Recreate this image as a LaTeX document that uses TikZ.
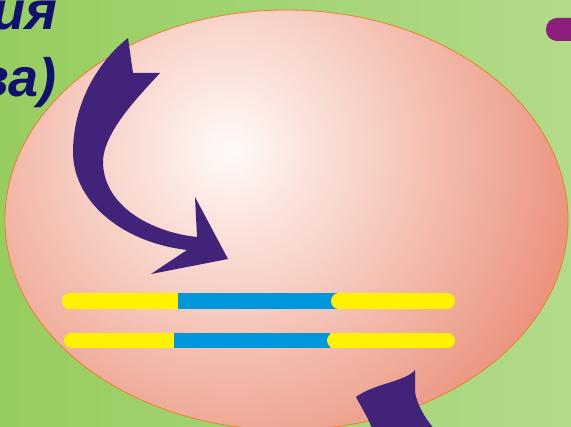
\documentclass[tikz,border=0pt]{standalone}
\usepackage{fontspec}
\setmainfont{Liberation Sans}
\usepackage{xcolor}
\usetikzlibrary{positioning}

\definecolor{grleft}{RGB}{150,205,95}
\definecolor{grright}{RGB}{178,218,138}
\definecolor{cellin}{RGB}{255,250,247}
\definecolor{cellout}{RGB}{232,132,108}
\definecolor{celledge}{RGB}{240,128,40}
\definecolor{ink}{RGB}{16,16,112}
\definecolor{arr}{RGB}{65,35,122}
\definecolor{mag}{RGB}{142,31,126}
\definecolor{yel}{RGB}{255,242,0}
\definecolor{blu}{RGB}{0,150,220}

\begin{document}
\begin{tikzpicture}[x=1pt, y=-1pt,
  every node/.style={font=\fontsize{54}{60}\selectfont\bfseries\itshape, text=ink, inner sep=0pt},
  yelbar/.style={draw=yel, line cap=round},
  blubar/.style={draw=blu, line cap=butt},
  arrshape/.style={fill=arr}]
\useasboundingbox (0,0) rectangle (571,427);
% background
\shade[left color=grleft, right color=grright] (0,0) rectangle (571,427);
\node (t1) [anchor=base east] at (57,30) {ия};
\node (t2) [anchor=base east] at (57,97) {ва)};
\fill[mag, rounded corners=11pt] (546,18) rectangle (590,41);
% cell
\begin{scope}
\clip (286.5,220) ellipse [x radius=281.5pt, y radius=210pt];
\shade[inner color=cellin, outer color=cellout] (230,150) circle (400pt);
\end{scope}
\draw[celledge, line width=0.8pt] (286.5,220) ellipse [x radius=281.5pt, y radius=210pt];
% curved arrow
\fill[arrshape] (128,38) -- (133,73) -- (160,73)
  .. controls (140,95) and (105,130) .. (103,160)
  .. controls (102,205) and (150,232) .. (197,237)
  -- (195,197) -- (228,259) -- (151,274) -- (187,250)
  .. controls (120,242) and (72,200) .. (73,150)
  .. controls (74,100) and (100,60) .. (128,38) -- cycle;
% lower arrow tail
\fill[arrshape] (356,397) .. controls (375,383) and (405,382) .. (415,370)
  -- (415,392) .. controls (417,405) and (425,418) .. (435,430)
  -- (373,430) -- (367,417) -- cycle;
% chromosomes
\draw[yelbar, line width=16pt] (70,301) -- (178,301);
\draw[blubar, line width=16pt] (178,301) -- (337,301);
\draw[yelbar, line width=16pt] (339,301) -- (447,301);
\draw[yelbar, line width=15pt] (71.5,340.5) -- (174,340.5);
\draw[blubar, line width=15pt] (174,340.5) -- (330,340.5);
\draw[yelbar, line width=15pt] (334.5,340.5) -- (447.5,340.5);
\end{tikzpicture}
\end{document}
